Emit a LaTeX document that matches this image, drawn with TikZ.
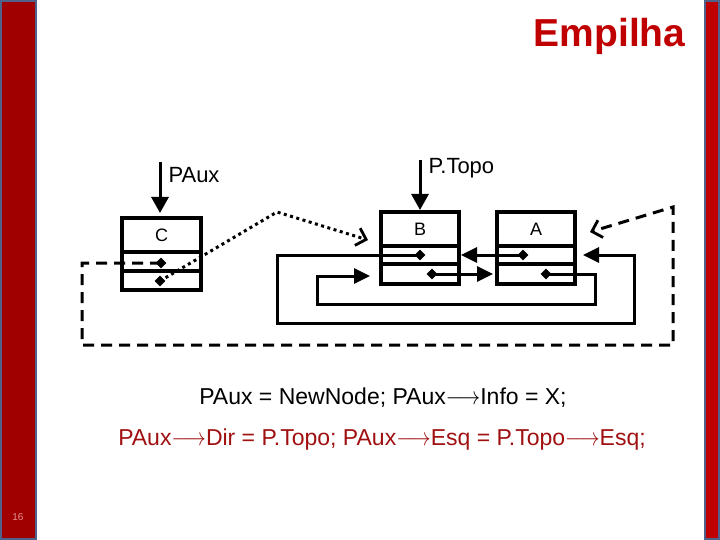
\documentclass[tikz,border=0pt]{standalone}
\usepackage{fontspec}
\usepackage{graphicx}
\setmainfont{Liberation Sans}
\usetikzlibrary{arrows.meta,shapes.geometric}
\definecolor{barred}{HTML}{A00000}
\definecolor{barred2}{HTML}{C00000}
\definecolor{barblue}{HTML}{4F6289}
\definecolor{titlered}{HTML}{C00000}
\definecolor{codered}{HTML}{A01010}
\definecolor{pagenum}{HTML}{E89090}
\newcommand{\myarr}{\scalebox{0.86}[1]{\ensuremath{\mathord{\longrightarrow}}}}
\tikzset{
  cell/.style={draw, line width=3.4pt, minimum width=79pt, inner sep=0pt, outer sep=0pt},
  ptr/.style={line width=3pt},
  tip/.style={-{Triangle[length=16pt,width=15pt]}},
  barb/.style={-{Straight Barb[length=9pt,width=18pt,line width=2.8pt]}},
  pdot/.style={diamond, fill, inner sep=0pt, minimum size=11pt},
  lbl/.style={font=\fontsize{18}{20}\selectfont},
  ptrlbl/.style={font=\fontsize{22}{24}\selectfont, anchor=west},
  code/.style={font=\fontsize{23}{27}\selectfont},
}
\begin{document}
\begin{tikzpicture}[x=1pt,y=-1pt]
\useasboundingbox (0,0) rectangle (720,540);
% side bars
\fill[barred] (0,0) rectangle (37,540);
\draw[barblue, line width=2pt] (1,1) rectangle (36,539);
\fill[barred2] (704,0) rectangle (720,540);
\draw[barblue, line width=2pt] (705,1) rectangle (719,539);
% title
\node[anchor=east, text=titlered, font=\bfseries\fontsize{39}{42}\selectfont] (title) at (689,36) {Empilha};
% page number
\node[text=pagenum, font=\fontsize{10}{12}\selectfont] (page) at (18,517) {16};

% node C
\node[cell, minimum height=34pt, lbl] (Ci) at (161.5,235) {C};
\node[cell, minimum height=19pt] (Cf1) at (161.5,261.5) {};
\node[cell, minimum height=19pt] (Cf2) at (161.5,280.5) {};
% node B
\node[cell, minimum width=78pt, minimum height=34pt, lbl] (Bi) at (420,229) {B};
\node[cell, minimum width=78pt, minimum height=18pt] (Bf1) at (420,255) {};
\node[cell, minimum width=78pt, minimum height=20pt] (Bf2) at (420,274) {};
% node A
\node[cell, minimum width=78pt, minimum height=34pt, lbl] (Ai) at (536,229) {A};
\node[cell, minimum width=78pt, minimum height=18pt] (Af1) at (536,255) {};
\node[cell, minimum width=78pt, minimum height=20pt] (Af2) at (536,274) {};

% pointer dots
\node[pdot] (dC1) at (161,263) {};
\node[pdot] (dC2) at (160,281) {};
\node[pdot] (dB1) at (420,255) {};
\node[pdot] (dB2) at (432,274) {};
\node[pdot] (dA1) at (523,255) {};
\node[pdot] (dA2) at (546,274) {};

% external pointers
\coordinate (PAuxTop) at (160,162);
\coordinate (PTopoTop) at (420,160);
\draw[ptr, -{Triangle[length=16pt,width=17pt]}, shorten >=5pt] (PAuxTop) -- (Ci.north -| PAuxTop);
\draw[ptr, -{Triangle[length=16pt,width=17pt]}, shorten >=2pt] (PTopoTop) -- (Bi.north);
\node[ptrlbl] (lPAux) at (165,175) {PAux};
\node[ptrlbl] (lPTopo) at (425,168) {P.Topo};

% links
\draw[ptr, tip, shorten >=8pt] (dB1.center) -- (277,255) -- (277,323) -- (634,323) -- (634,255) -- (Af1.east);
\draw[ptr, tip, shorten >=2pt] (dA1.center) -- (Bf1.east);
\draw[ptr, tip, shorten >=4pt] (dB2.center) -- (Af2.west);
\draw[ptr, tip, shorten >=11pt] (dA2.center) -- (595,274) -- (595,304) -- (317,304) -- (317,276) -- (Bf2.west |- 0,276);

% dotted: PAux->Dir
\coordinate (tipB) at (368,240);
\draw[line width=3pt, dash pattern=on 3pt off 3.5pt, barb] (dC2.center) -- (277,212) -- (tipB);
% dashed: PAux->Esq
\coordinate (tipA) at (590,232);
\draw[line width=3pt, dash pattern=on 11pt off 7pt, barb] (dC1.center) -- (82,263) -- (82,345) -- (673,345) -- (673,207) -- (tipA);

% code lines
\node[code] (line1) at (383,398) {PAux = NewNode; PAux\myarr Info = X;};
\node[code, text=codered] (line2) at (382,440) {PAux\myarr Dir = P.Topo; PAux\myarr Esq = P.Topo\myarr Esq;};
\end{tikzpicture}
\end{document}
